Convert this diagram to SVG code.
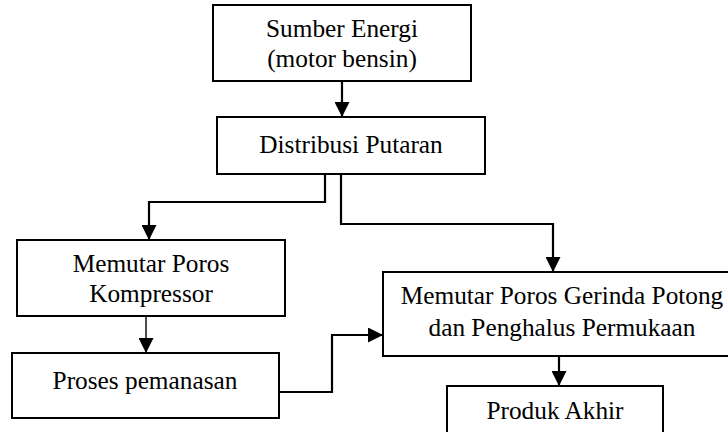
<svg xmlns="http://www.w3.org/2000/svg" width="728" height="432" viewBox="0 0 728 432">
<style>
.box{fill:#fff;stroke:#000;stroke-width:2}
.t{font-family:"Liberation Serif","Times New Roman",serif;font-size:25.3px;fill:#000;text-anchor:middle}
.c{fill:none;stroke:#000;stroke-width:2.2}
.thin{stroke-width:1.4}
</style>
<defs>
<marker id="ahb" viewBox="0 0 10 10" refX="10" refY="5" markerWidth="16" markerHeight="15" markerUnits="userSpaceOnUse" orient="auto">
<path d="M0,0 L10,5 L0,10 z" fill="#000"/>
</marker>
</defs>
<g id="connectors">
<path class="c" d="M342,81 V117" marker-end="url(#ahb)"/>
<path class="c" d="M325,174 V202 H149 V240" marker-end="url(#ahb)"/>
<path class="c" d="M341,174 V224 H553 V272" marker-end="url(#ahb)"/>
<path class="c thin" d="M146,316 V353" marker-end="url(#ahb)"/>
<path class="c" d="M279,392 H332 V335 H383" marker-end="url(#ahb)"/>
<path class="c" d="M559,356 V386" marker-end="url(#ahb)"/>
</g>
<g id="sumber">
<rect class="box" x="213" y="5" width="258" height="76"/>
<text class="t" x="342" y="37">Sumber Energi</text>
<text class="t" x="342" y="67">(motor bensin)</text>
</g>
<g id="distribusi">
<rect class="box" x="217" y="117" width="268" height="57"/>
<text class="t" x="351" y="153">Distribusi Putaran</text>
</g>
<g id="kompressor">
<rect class="box" x="17" y="240" width="268" height="76"/>
<text class="t" x="151" y="272">Memutar Poros</text>
<text class="t" x="151" y="302">Kompressor</text>
</g>
<g id="pemanasan">
<rect class="box" x="12" y="353" width="267" height="65"/>
<text class="t" x="145" y="389">Proses pemanasan</text>
</g>
<g id="gerinda">
<rect class="box" x="383" y="272" width="350" height="84"/>
<text class="t" x="562" y="304">Memutar Poros Gerinda Potong</text>
<text class="t" x="562" y="336">dan Penghalus Permukaan</text>
</g>
<g id="produk">
<rect class="box" x="447" y="386" width="216" height="60"/>
<text class="t" x="555" y="419">Produk Akhir</text>
</g>
</svg>
